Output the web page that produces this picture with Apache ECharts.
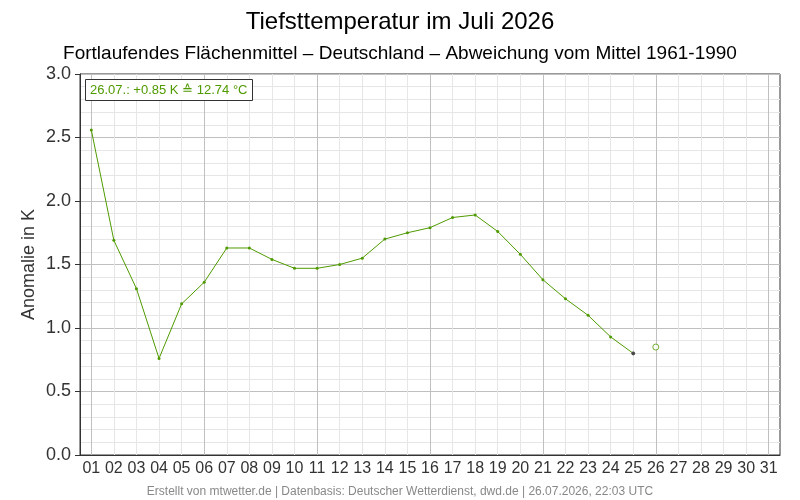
<!DOCTYPE html>
<html>
<head>
<meta charset="utf-8">
<script src="https://cdn.jsdelivr.net/npm/echarts@6/dist/echarts.min.js"></script>
<style>
  html, body { margin: 0; padding: 0; background: #fff; }
  #chart { width: 800px; height: 500px; }
</style>
</head>
<body>
<div id="chart"></div>
<script>
// Days of July
const days = ['01','02','03','04','05','06','07','08','09','10','11','12','13','14','15','16',
  '17','18','19','20','21','22','23','24','25','26','27','28','29','30','31']

// Running area-mean anomaly (K), days 01..25
const anomaly = [2.56, 1.69, 1.31, 0.76, 1.19, 1.36, 1.63, 1.63, 1.54, 1.47, 1.47, 1.50, 1.55,
  1.70, 1.75, 1.79, 1.87, 1.89, 1.76, 1.58, 1.38, 1.23, 1.10, 0.93, 0.80]

// Current (provisional) day
const currentDay = '26'
const currentAnomaly = 0.85
const currentAbs = 12.74

const majorDays = ['01', '06', '11', '16', '21', '26', '31']

const green = '#4f9a00'
const font = 'Liberation Sans, Arial, sans-serif'

const chart = echarts.init(document.getElementById('chart'))

const fmtSign = (v) => (v >= 0 ? '+' : '') + v.toFixed(2)

// vertical grid lines as mark lines (one per day, darker every 5 days)
const vLines = days.map((d) => ({
  xAxis: d,
  lineStyle: majorDays.includes(d)
    ? { color: '#c0c0c0', width: 1, type: 'solid' }
    : { color: '#e6e6e6', width: 1, type: 'solid' },
}))

const option = {
  animation: false,
  textStyle: { fontFamily: font },
  title: [
    {
      text: 'Tiefsttemperatur im Juli 2026',
      left: 'center',
      top: 5,
      textStyle: { fontSize: 24, fontWeight: 'normal', color: '#000', fontFamily: font },
    },
    {
      text: 'Fortlaufendes Flächenmittel – Deutschland – Abweichung vom Mittel 1961-1990',
      left: 'center',
      top: 39,
      textStyle: { fontSize: 19, fontWeight: 'normal', color: '#000', fontFamily: font },
    },
    {
      text: currentDay + '.07.: ' + fmtSign(currentAnomaly) + ' K ≙ ' + currentAbs.toFixed(2) + ' °C',
      left: 85,
      top: 79,
      padding: [5, 5, 4, 5],
      borderColor: '#333',
      borderWidth: 1,
      backgroundColor: '#fff',
      textStyle: { fontSize: 13, fontWeight: 'normal', color: green, fontFamily: font },
    },
    {
      text: 'Erstellt von mtwetter.de | Datenbasis: Deutscher Wetterdienst, dwd.de | 26.07.2026, 22:03 UTC',
      left: 'center',
      top: 481,
      textStyle: { fontSize: 12, fontWeight: 'normal', color: '#888', fontFamily: font },
    },
  ],
  grid: {
    left: 80,
    right: 20,
    top: 74,
    bottom: 45,
    show: true,
    borderColor: '#333',
    borderWidth: 1,
  },
  xAxis: {
    type: 'category',
    data: days,
    boundaryGap: true,
    axisLine: { lineStyle: { color: '#333' } },
    axisTick: { show: false },
    axisLabel: { fontSize: 16, color: '#333', margin: 6, interval: 0 },
    splitLine: { show: false },
  },
  yAxis: {
    type: 'value',
    min: 0,
    max: 3,
    interval: 0.5,
    name: 'Anomalie in K',
    nameLocation: 'middle',
    nameGap: 42,
    nameMoveOverlap: false,
    nameTextStyle: { fontSize: 18, color: '#333' },
    axisLine: { show: true, lineStyle: { color: '#333' } },
    axisTick: { show: true, length: 5, lineStyle: { color: '#333' } },
    axisLabel: {
      fontSize: 18,
      color: '#333',
      margin: 9,
      formatter: (v) => v.toFixed(1),
    },
    splitLine: { show: true, lineStyle: { color: '#c0c0c0' } },
    minorTick: { show: false, splitNumber: 5 },
    minorSplitLine: { show: true, lineStyle: { color: '#e6e6e6' } },
  },
  series: [
    {
      name: 'grid',
      type: 'line',
      data: [],
      silent: true,
      z: 1,
      markLine: {
        silent: true,
        symbol: 'none',
        label: { show: false },
        animation: false,
        data: vLines,
      },
    },
    {
      name: 'Anomalie',
      type: 'line',
      z: 5,
      data: anomaly.map((v, i) => ({
        value: v,
        itemStyle: i === anomaly.length - 1 ? { color: '#444', borderColor: '#444' } : undefined,
      })),
      symbol: 'circle',
      symbolSize: 3,
      showAllSymbol: true,
      lineStyle: { color: green, width: 1 },
      itemStyle: { color: green },
    },
    {
      name: 'Aktuell',
      type: 'scatter',
      z: 6,
      data: [[currentDay, currentAnomaly]],
      symbol: 'circle',
      symbolSize: 6,
      itemStyle: { color: '#fff', borderColor: green, borderWidth: 1 },
    },
  ],
}

chart.setOption(option)
</script>
</body>
</html>
